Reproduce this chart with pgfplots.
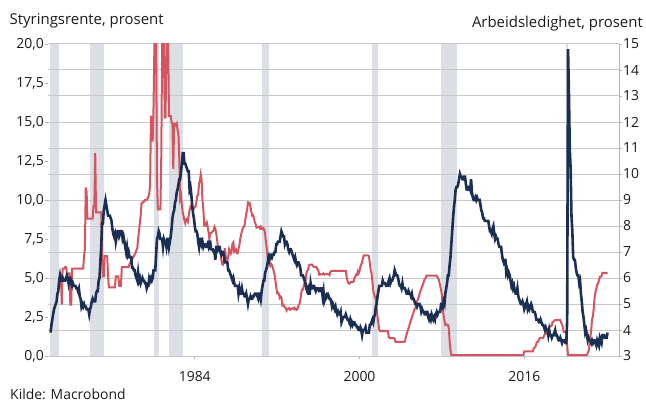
\documentclass[border=0pt]{standalone}
\usepackage{pgfplots}
\pgfplotsset{compat=1.18}
\usepackage{fontspec}
\setmainfont{Open Sans}
\definecolor{redl}{HTML}{D2555F}
\definecolor{navy}{HTML}{1B2F55}
\definecolor{band}{HTML}{DCDFE6}
\definecolor{gridc}{HTML}{C8C8C8}
\definecolor{axisc}{HTML}{B4B4B4}
\definecolor{txt}{HTML}{1A1A1A}
\pgfplotsset{
  common/.style={at={(48bp,45bp)}, anchor=south west, width=571bp, height=312bp,
    scale only axis, xmin=1969.75, xmax=2025.2},
}
\begin{document}
\begin{tikzpicture}[x=1bp,y=1bp]
\path[use as bounding box] (0,0) rectangle (646,401);
% recession bands
\begin{axis}[common, ymin=0, ymax=20, hide axis]
\addplot[fill=band, draw=none] coordinates {(1969.92,20) (1970.83,20)} \closedcycle;
\addplot[fill=band, draw=none] coordinates {(1973.83,20) (1975.17,20)} \closedcycle;
\addplot[fill=band, draw=none] coordinates {(1980.0,20) (1980.5,20)} \closedcycle;
\addplot[fill=band, draw=none] coordinates {(1981.5,20) (1982.83,20)} \closedcycle;
\addplot[fill=band, draw=none] coordinates {(1990.5,20) (1991.17,20)} \closedcycle;
\addplot[fill=band, draw=none] coordinates {(2001.17,20) (2001.83,20)} \closedcycle;
\addplot[fill=band, draw=none] coordinates {(2007.92,20) (2009.42,20)} \closedcycle;
\addplot[fill=band, draw=none] coordinates {(2020.08,20) (2020.25,20)} \closedcycle;
\end{axis}
% left axis: policy rate
\begin{axis}[common, ymin=0, ymax=20,
  axis x line*=bottom, axis y line*=left,
  y axis line style={draw=none},
  x axis line style={draw=axisc, line width=1bp, -},
  xtick={1984,2000,2016}, xticklabels={1984,2000,2016},
  ytick={0,2.5,5,7.5,10,12.5,15,17.5,20},
  yticklabels={{0,0},{2,5},{5,0},{7,5},{10,0},{12,5},{15,0},{17,5},{20,0}},
  extra y ticks={0,1.66667,3.33333,5,6.66667,8.33333,10,11.66667,13.33333,15,16.66667,18.33333,20},
  extra y tick labels={},
  extra y tick style={grid=major, major tick length=0pt},
  major grid style={draw=gridc, line width=1bp},
  tick align=outside, major tick length=3bp,
  tick style={draw=axisc, line width=0.8bp},
  ticklabel style={font=\fontsize{14}{16}\selectfont, text=txt},
  yticklabel style={inner sep=1bp},
  xticklabel style={yshift=-9bp},
]
\addplot[redl, line width=2bp] table[row sep=\\, x expr=1971+\coordindex/12, y=v] {
v\\
5.3\\3.3\\5.6\\5.6\\5.6\\5.7\\5.7\\5.3\\5.3\\5.3\\5.3\\3.3\\
3.3\\5.6\\5.6\\5.6\\5.6\\5.6\\5.6\\5.6\\5.6\\5.6\\5.6\\5.6\\
5.6\\5.6\\5.6\\6.4\\6.9\\10.8\\10.5\\8.8\\8.8\\8.8\\8.8\\8.8\\
8.8\\8.8\\9.6\\9.6\\13.0\\9.2\\9.2\\9.2\\9.2\\9.2\\9.2\\9.2\\
6.4\\5.1\\5.1\\6.4\\6.4\\6.4\\6.4\\5.1\\4.4\\4.4\\4.4\\4.4\\
4.4\\4.4\\4.4\\4.4\\5.1\\5.1\\5.1\\5.1\\4.5\\4.5\\4.5\\5.7\\
5.7\\5.7\\5.7\\5.7\\5.7\\5.7\\5.7\\5.7\\5.9\\6.0\\6.1\\6.2\\
6.3\\6.4\\6.5\\6.6\\6.8\\6.9\\7.5\\8.0\\8.5\\9.0\\9.8\\9.8\\
9.9\\9.9\\10.0\\10.0\\10.0\\10.1\\10.2\\10.4\\11.0\\15.4\\13.8\\13.8\\
16.0\\20\\20\\20\\11.3\\9.4\\9.4\\9.4\\9.4\\12.8\\20\\20\\
20\\15.3\\15.3\\20\\20\\20\\15.4\\15.4\\15.4\\15.0\\14.9\\12.0\\
14.9\\14.9\\14.8\\14.9\\14.5\\14.2\\12.6\\10.1\\10.3\\9.7\\9.2\\8.95\\
8.68\\8.51\\8.77\\8.80\\8.63\\8.98\\9.37\\9.56\\9.45\\9.48\\9.34\\9.47\\
9.56\\9.59\\9.91\\10.29\\10.32\\11.06\\11.23\\11.64\\11.30\\9.99\\9.43\\8.38\\
8.35\\8.50\\8.58\\8.27\\7.97\\7.53\\7.88\\7.90\\7.92\\7.99\\8.05\\8.27\\
8.14\\7.86\\7.48\\6.99\\6.85\\6.92\\6.56\\6.17\\5.89\\5.85\\6.04\\6.91\\
6.43\\6.10\\6.13\\6.37\\6.85\\6.73\\6.58\\6.73\\7.22\\7.29\\6.69\\6.77\\
6.83\\6.58\\6.58\\6.87\\7.09\\7.51\\7.75\\8.01\\8.19\\8.30\\8.35\\8.76\\
9.12\\9.36\\9.85\\9.84\\9.81\\9.53\\9.24\\8.99\\9.02\\8.84\\8.55\\8.45\\
8.23\\8.24\\8.28\\8.26\\8.18\\8.29\\8.15\\8.13\\8.20\\8.11\\7.81\\7.31\\
6.91\\6.25\\6.12\\5.91\\5.78\\5.90\\5.82\\5.66\\5.45\\5.21\\4.81\\4.43\\
4.03\\4.06\\3.98\\3.73\\3.82\\3.76\\3.25\\3.30\\3.22\\3.10\\3.09\\2.92\\
3.02\\3.03\\3.07\\2.96\\3.00\\3.04\\3.06\\3.03\\3.09\\2.99\\3.02\\2.96\\
3.05\\3.25\\3.34\\3.56\\4.01\\4.25\\4.26\\4.47\\4.73\\4.76\\5.29\\5.45\\
5.53\\5.80\\5.85\\5.85\\5.85\\5.85\\5.75\\5.70\\5.70\\5.70\\5.70\\5.55\\
5.50\\5.22\\5.25\\5.22\\5.24\\5.25\\5.30\\5.22\\5.25\\5.24\\5.25\\5.25\\
5.25\\5.19\\5.39\\5.45\\5.45\\5.45\\5.45\\5.45\\5.45\\5.45\\5.45\\5.45\\
5.45\\5.45\\5.45\\5.45\\5.45\\5.45\\5.45\\5.45\\5.45\\5.07\\4.83\\4.68\\
4.63\\4.70\\4.75\\4.74\\4.74\\4.76\\4.99\\5.07\\5.22\\5.20\\5.42\\5.30\\
5.45\\5.73\\5.85\\6.02\\6.27\\6.45\\6.45\\6.45\\6.45\\6.45\\6.45\\6.40\\
5.98\\5.49\\5.31\\4.80\\4.21\\3.97\\3.77\\3.65\\3.07\\2.49\\2.09\\1.70\\
1.60\\1.60\\1.60\\1.60\\1.60\\1.60\\1.60\\1.60\\1.60\\1.60\\1.25\\1.15\\
1.15\\1.15\\1.15\\1.15\\1.15\\1.10\\0.90\\0.90\\0.90\\0.90\\0.90\\0.90\\
0.90\\0.90\\0.90\\0.90\\0.90\\0.95\\1.20\\1.40\\1.60\\1.76\\1.93\\2.16\\
2.28\\2.50\\2.63\\2.79\\3.00\\3.04\\3.26\\3.50\\3.62\\3.78\\4.00\\4.16\\
4.29\\4.49\\4.59\\4.79\\4.94\\4.99\\5.15\\5.15\\5.15\\5.15\\5.15\\5.15\\
5.15\\5.15\\5.15\\5.15\\5.15\\5.15\\5.15\\5.02\\4.94\\4.76\\4.49\\4.24\\
3.94\\2.98\\2.61\\2.28\\1.98\\2.00\\2.01\\2.00\\1.81\\0.97\\0.39\\0.07\\
0.06\\0.06\\0.06\\0.06\\0.06\\0.06\\0.06\\0.06\\0.06\\0.06\\0.06\\0.06\\
0.06\\0.06\\0.06\\0.06\\0.06\\0.06\\0.06\\0.06\\0.06\\0.06\\0.06\\0.06\\
0.06\\0.06\\0.06\\0.06\\0.06\\0.06\\0.06\\0.06\\0.06\\0.06\\0.06\\0.06\\
0.06\\0.06\\0.06\\0.06\\0.06\\0.06\\0.06\\0.06\\0.06\\0.06\\0.06\\0.06\\
0.06\\0.06\\0.06\\0.06\\0.06\\0.06\\0.06\\0.06\\0.06\\0.06\\0.06\\0.06\\
0.06\\0.06\\0.06\\0.06\\0.06\\0.06\\0.06\\0.06\\0.06\\0.06\\0.06\\0.06\\
0.06\\0.06\\0.06\\0.06\\0.06\\0.06\\0.06\\0.06\\0.06\\0.06\\0.06\\0.06\\
0.30\\0.30\\0.30\\0.30\\0.30\\0.30\\0.30\\0.30\\0.30\\0.30\\0.30\\0.50\\
0.55\\0.60\\0.79\\0.90\\0.91\\1.04\\1.15\\1.16\\1.15\\1.15\\1.16\\1.30\\
1.41\\1.42\\1.51\\1.69\\1.70\\1.82\\1.91\\1.91\\1.95\\2.19\\2.20\\2.27\\
2.30\\2.30\\2.30\\2.30\\2.30\\2.30\\2.30\\2.13\\2.04\\1.83\\1.55\\1.55\\
1.55\\1.58\\0.65\\0.06\\0.06\\0.06\\0.06\\0.06\\0.06\\0.06\\0.06\\0.06\\
0.06\\0.06\\0.06\\0.06\\0.06\\0.06\\0.06\\0.06\\0.06\\0.06\\0.06\\0.06\\
0.06\\0.06\\0.20\\0.33\\0.77\\1.21\\1.68\\2.33\\2.56\\3.08\\3.78\\4.10\\
4.33\\4.57\\4.65\\4.83\\5.06\\5.08\\5.12\\5.33\\5.33\\5.33\\5.33\\5.33\\
5.33\\5.33\\
};
\end{axis}
% right axis: unemployment
\begin{axis}[common, ymin=3, ymax=15,
  axis x line=none, axis y line*=right,
  y axis line style={draw=axisc, line width=1bp, -},
  ytick={3,4,5,6,7,8,9,10,11,12,13,14,15},
  yticklabels={3,4,5,6,7,8,9,10,11,12,13,14,15},
  tick align=outside, major tick length=3bp,
  tick style={draw=axisc, line width=0.8bp},
  ticklabel style={font=\fontsize{14}{16}\selectfont, text=txt},
  yticklabel style={inner sep=1bp},
]
\addplot[navy, line width=2.6bp] table[row sep=\\, x expr=1970+\coordindex/12, y=u] {
u\\
3.9\\4.2\\4.4\\4.6\\4.8\\4.9\\5.0\\5.1\\5.4\\5.5\\5.9\\6.1\\
5.9\\5.9\\6.0\\5.9\\5.9\\5.9\\6.0\\6.1\\6.0\\5.8\\6.0\\6.0\\
5.8\\5.7\\5.8\\5.7\\5.7\\5.7\\5.6\\5.6\\5.5\\5.6\\5.3\\5.2\\
4.9\\5.0\\4.9\\5.0\\4.9\\4.9\\4.8\\4.8\\4.8\\4.6\\4.8\\4.9\\
5.1\\5.2\\5.1\\5.1\\5.1\\5.4\\5.5\\5.5\\5.9\\6.0\\6.6\\7.2\\
8.1\\8.1\\8.6\\8.8\\9.0\\8.8\\8.6\\8.4\\8.4\\8.4\\8.3\\8.2\\
7.9\\7.7\\7.6\\7.7\\7.4\\7.6\\7.8\\7.8\\7.6\\7.7\\7.8\\7.8\\
7.5\\7.6\\7.4\\7.2\\7.0\\7.2\\6.9\\7.0\\6.8\\6.8\\6.8\\6.4\\
6.4\\6.3\\6.3\\6.1\\6.0\\5.9\\6.2\\5.9\\6.0\\5.8\\5.9\\6.0\\
5.9\\5.9\\5.8\\5.8\\5.6\\5.7\\5.7\\6.0\\5.9\\6.0\\5.9\\6.0\\
6.3\\6.3\\6.3\\6.9\\7.5\\7.6\\7.8\\7.7\\7.5\\7.5\\7.5\\7.2\\
7.5\\7.4\\7.4\\7.2\\7.5\\7.5\\7.2\\7.4\\7.6\\7.9\\8.3\\8.5\\
8.6\\8.9\\9.0\\9.3\\9.4\\9.6\\9.8\\9.8\\10.1\\10.4\\10.8\\10.8\\
10.4\\10.4\\10.3\\10.2\\10.1\\10.1\\9.4\\9.5\\9.2\\8.8\\8.5\\8.3\\
8.0\\7.8\\7.8\\7.7\\7.4\\7.2\\7.5\\7.5\\7.3\\7.4\\7.2\\7.3\\
7.3\\7.2\\7.2\\7.3\\7.2\\7.4\\7.4\\7.1\\7.1\\7.1\\7.0\\7.0\\
6.7\\7.2\\7.2\\7.1\\7.2\\7.2\\7.0\\6.9\\7.0\\7.0\\6.9\\6.6\\
6.6\\6.6\\6.6\\6.3\\6.3\\6.2\\6.1\\6.0\\5.9\\6.0\\5.8\\5.7\\
5.7\\5.7\\5.7\\5.4\\5.6\\5.4\\5.4\\5.6\\5.4\\5.4\\5.3\\5.3\\
5.4\\5.2\\5.0\\5.2\\5.2\\5.3\\5.2\\5.2\\5.3\\5.3\\5.4\\5.4\\
5.4\\5.3\\5.2\\5.4\\5.4\\5.2\\5.5\\5.7\\5.9\\5.9\\6.2\\6.3\\
6.4\\6.6\\6.8\\6.7\\6.9\\6.9\\6.8\\6.9\\6.9\\7.0\\7.0\\7.3\\
7.3\\7.4\\7.4\\7.4\\7.6\\7.8\\7.7\\7.6\\7.6\\7.3\\7.4\\7.4\\
7.3\\7.1\\7.0\\7.1\\7.1\\7.0\\6.9\\6.8\\6.7\\6.8\\6.6\\6.5\\
6.6\\6.6\\6.5\\6.4\\6.1\\6.1\\6.1\\6.0\\5.9\\5.8\\5.6\\5.5\\
5.6\\5.4\\5.4\\5.8\\5.6\\5.6\\5.7\\5.7\\5.6\\5.5\\5.6\\5.6\\
5.6\\5.5\\5.5\\5.6\\5.6\\5.3\\5.5\\5.1\\5.2\\5.2\\5.4\\5.4\\
5.3\\5.2\\5.2\\5.1\\4.9\\5.0\\4.9\\4.8\\4.9\\4.7\\4.6\\4.7\\
4.6\\4.6\\4.7\\4.3\\4.4\\4.5\\4.5\\4.5\\4.6\\4.5\\4.4\\4.4\\
4.3\\4.4\\4.2\\4.3\\4.2\\4.3\\4.3\\4.2\\4.2\\4.1\\4.1\\4.0\\
4.0\\4.1\\4.0\\3.8\\4.0\\4.0\\4.0\\4.1\\3.9\\3.9\\3.9\\3.9\\
4.2\\4.2\\4.3\\4.4\\4.3\\4.5\\4.6\\4.9\\5.0\\5.3\\5.5\\5.7\\
5.7\\5.7\\5.7\\5.9\\5.8\\5.8\\5.8\\5.7\\5.7\\5.7\\5.9\\6.0\\
5.8\\5.9\\5.9\\6.0\\6.1\\6.3\\6.2\\6.1\\6.1\\6.0\\5.8\\5.7\\
5.7\\5.6\\5.8\\5.6\\5.6\\5.6\\5.5\\5.4\\5.4\\5.5\\5.4\\5.4\\
5.3\\5.4\\5.2\\5.2\\5.1\\5.0\\5.0\\4.9\\5.0\\5.0\\5.0\\4.9\\
4.7\\4.8\\4.7\\4.7\\4.6\\4.6\\4.7\\4.7\\4.5\\4.4\\4.5\\4.4\\
4.6\\4.5\\4.4\\4.5\\4.4\\4.6\\4.7\\4.6\\4.7\\4.7\\4.7\\5.0\\
5.0\\4.9\\5.1\\5.0\\5.4\\5.6\\5.8\\6.1\\6.1\\6.5\\6.8\\7.3\\
7.8\\8.3\\8.7\\9.0\\9.4\\9.5\\9.5\\9.6\\9.8\\10.0\\9.9\\9.9\\
9.8\\9.8\\9.9\\9.9\\9.6\\9.4\\9.4\\9.5\\9.5\\9.4\\9.8\\9.3\\
9.1\\9.0\\9.0\\9.1\\9.0\\9.1\\9.0\\9.0\\9.0\\8.8\\8.6\\8.5\\
8.3\\8.3\\8.2\\8.2\\8.2\\8.2\\8.2\\8.0\\7.8\\7.8\\7.7\\7.9\\
8.0\\7.7\\7.5\\7.6\\7.5\\7.5\\7.3\\7.2\\7.2\\7.2\\6.9\\6.7\\
6.6\\6.7\\6.7\\6.2\\6.3\\6.1\\6.2\\6.1\\5.9\\5.7\\5.8\\5.6\\
5.7\\5.5\\5.4\\5.4\\5.6\\5.3\\5.2\\5.1\\5.0\\5.0\\5.1\\5.0\\
4.8\\4.9\\5.0\\5.1\\4.8\\4.9\\4.8\\4.9\\5.0\\4.9\\4.7\\4.7\\
4.7\\4.6\\4.4\\4.4\\4.4\\4.3\\4.3\\4.4\\4.3\\4.2\\4.2\\4.1\\
4.0\\4.1\\4.0\\4.0\\3.8\\4.0\\3.8\\3.8\\3.7\\3.8\\3.8\\3.9\\
4.0\\3.8\\3.8\\3.7\\3.6\\3.6\\3.7\\3.6\\3.5\\3.6\\3.6\\3.6\\
3.5\\3.5\\4.4\\14.8\\13.2\\11.0\\10.2\\8.4\\7.8\\6.8\\6.7\\6.7\\
6.4\\6.2\\6.1\\6.1\\5.8\\5.9\\5.4\\5.1\\4.7\\4.5\\4.2\\3.9\\
4.0\\3.8\\3.6\\3.7\\3.6\\3.6\\3.5\\3.6\\3.5\\3.6\\3.6\\3.5\\
3.4\\3.6\\3.5\\3.4\\3.7\\3.6\\3.5\\3.8\\3.8\\3.8\\3.7\\3.7\\
3.7\\3.9\\
};
\end{axis}
\node[anchor=base west, font=\fontsize{15}{18}\selectfont, text=txt, inner sep=0pt] at (9.5,377) {Styringsrente, prosent};
\node[anchor=base east, font=\fontsize{15}{18}\selectfont, text=txt, inner sep=0pt] at (643,374) {Arbeidsledighet, prosent};
\node[anchor=base west, font=\fontsize{14}{16}\selectfont, text=txt, inner sep=0pt] at (10,2) {Kilde: Macrobond};
\end{tikzpicture}
\end{document}
